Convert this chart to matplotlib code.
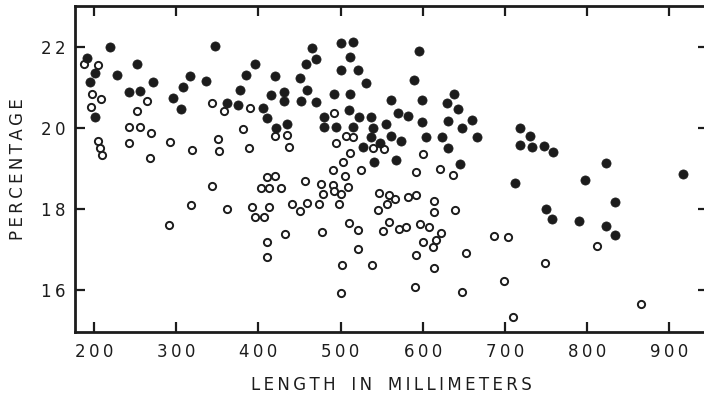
import matplotlib
matplotlib.use("Agg")
import matplotlib.pyplot as plt
from matplotlib.ticker import FuncFormatter

# solid dots
solid_x = [190.7, 195, 200.5, 200.5, 218.6, 228, 242, 252, 256, 271, 296, 305.5, 307.7, 316.5,
           336, 346.5, 362, 374.5, 377.7, 385, 396, 405, 410.6, 415, 420.4, 421, 431.4, 431.4,
           434.5, 450, 451.5, 457.5, 459.5, 465, 470, 470, 480, 480, 491.5, 495, 500, 500, 511,
           512, 510.3, 515.5, 514.6, 521.5, 522.8, 530.8, 527, 536.5, 540, 537, 548, 540.7,
           555.4, 561, 561.3, 567.3, 570, 574.1, 582, 589, 595, 599.4, 599.7, 604, 623, 630.2,
           630.4, 630.3, 638, 643, 647.5, 646, 659.7, 665.8, 719, 719, 712.8, 731, 733, 748,
           759, 750, 757.6, 798, 790, 823, 834, 823.6, 834.5, 917.5]
solid_y = [21.73, 21.12, 21.36, 20.27, 22.0, 21.29, 20.88, 21.58, 20.90, 21.12, 20.73, 20.45,
           21.01, 21.28, 21.16, 22.02, 20.61, 20.57, 20.94, 21.29, 21.56, 20.49, 20.25, 20.8,
           21.28, 19.99, 20.89, 20.66, 20.10, 21.23, 20.67, 21.56, 20.92, 21.97, 21.69, 20.64,
           20.27, 20.01, 20.84, 20.01, 22.08, 21.43, 21.74, 20.82, 20.44, 22.12, 20.01, 21.41,
           20.27, 21.09, 19.52, 20.26, 20.0, 19.77, 19.62, 19.16, 20.08, 20.68, 19.79, 19.21,
           20.36, 19.67, 20.28, 21.17, 21.88, 20.69, 20.15, 19.77, 19.76, 20.61, 20.16, 19.49,
           20.83, 20.45, 20.0, 19.10, 20.18, 19.77, 19.98, 19.57, 18.63, 19.80, 19.53, 19.55,
           19.39, 18.0, 17.74, 18.70, 17.71, 19.12, 18.18, 17.57, 17.35, 18.85]

# open circles
open_x = [187, 205, 197.5, 196.5, 208, 205, 206.6, 209.8, 242.5, 256.3, 242.7, 251.8, 264, 269,
          267.8, 292.4, 291.3, 319.5, 317.8, 343.2, 357.7, 351.2, 352, 343, 362, 381, 388, 390,
          392.3, 395.8, 406.5, 410.5, 420, 403.5, 413, 428, 412.6, 410.8, 410.8, 432.4, 420,
          434.2, 437.6, 441.4, 451.2, 456.8, 459, 473.6, 476, 479, 476.8, 492.2, 494, 491,
          490.2, 492.5, 500, 497.8, 507, 515.5, 511.6, 503.5, 506, 508.5, 509.8, 521.7, 525,
          521.8, 501.3, 500, 537.7, 540, 552.5, 547, 559, 557, 566, 546, 551.4, 559, 570.6,
          580.2, 582.2, 592, 592.2, 601, 596.4, 600, 607.2, 591.4, 590.5, 614.2, 614.2, 616.5,
          622.5, 613, 614.2, 621.6, 637.4, 639.6, 652.8, 648.4, 686.5, 704, 698.8, 710.3,
          748.5, 812, 865.6]
open_y = [21.57, 21.55, 20.83, 20.52, 20.71, 19.68, 19.51, 19.32, 20.02, 20.02, 19.63, 20.41,
          20.67, 19.86, 19.25, 19.64, 17.59, 19.44, 18.1, 20.61, 20.41, 19.73, 19.43, 18.57,
          18.0, 19.97, 19.51, 20.49, 18.05, 17.79, 17.79, 18.79, 18.80, 18.52, 18.52, 18.51,
          18.05, 17.18, 16.81, 17.38, 19.80, 19.81, 19.53, 18.12, 17.94, 18.69, 18.15, 18.11,
          18.61, 18.37, 17.42, 20.36, 19.63, 18.96, 18.58, 18.45, 18.37, 18.12, 19.79, 19.77,
          19.38, 19.16, 18.80, 18.54, 17.65, 17.47, 18.96, 17.0, 16.62, 15.92, 16.62, 19.50,
          19.48, 18.38, 18.33, 18.13, 18.24, 17.96, 17.45, 17.68, 17.5, 17.55, 18.29, 18.33,
          18.90, 19.34, 17.63, 17.19, 17.55, 16.86, 16.07, 18.2, 17.93, 17.22, 17.41, 17.07,
          16.55, 18.97, 18.84, 17.97, 16.92, 15.96, 17.33, 17.30, 16.22, 15.34, 16.67, 17.09,
          15.66]

x_ticks = [200, 300, 400, 500, 600, 700, 800, 900]
y_ticks = [16, 18, 20, 22]

ink = "#1c1c1c"
plt.rcParams['font.family'] = ['DejaVu Sans']

fig = plt.figure(figsize=(7.04, 4.03), dpi=100)
ax = fig.add_axes([0.1071, 0.1769, 0.8979, 0.8082])

ax.plot(open_x, open_y, 'o', ms=5.2, mfc='white', mec=ink, mew=1.4, zorder=2)
ax.plot(solid_x, solid_y, 'o', ms=6.6, mfc=ink, mec=ink, mew=0.5, zorder=3)

ax.set_xlim(177, 947)
ax.set_ylim(14.97, 23.0)
ax.set_xticks(x_ticks)
ax.set_yticks(y_ticks)

spaced = FuncFormatter(lambda v, p: '\u2009'.join(str(int(v))))
ax.xaxis.set_major_formatter(spaced)
ax.yaxis.set_major_formatter(spaced)

ax.tick_params(direction='in', length=7, width=1.6, color=ink, labelcolor=ink,
               labelsize=12, top=True, right=True)
ax.tick_params(axis='x', pad=8)
ax.tick_params(axis='y', pad=7)
for s in ax.spines.values():
    s.set_linewidth(2.0)
    s.set_color(ink)

ax.set_xlabel('\u2009'.join('LENGTH') + '   ' + '\u2009'.join('IN') + '   ' +
              '\u2009'.join('MILLIMETERS'), fontsize=12, color=ink, labelpad=11)
ax.set_ylabel('\u2009'.join('PERCENTAGE'), fontsize=12, color=ink, labelpad=10)

fig.savefig('out.png', dpi=100)
